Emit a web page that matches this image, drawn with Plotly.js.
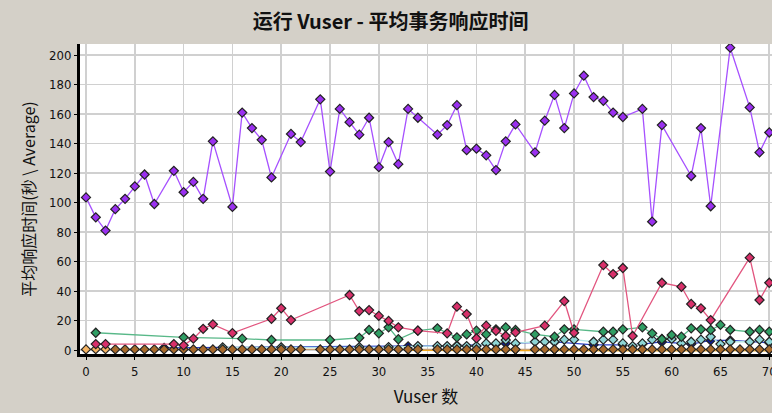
<!DOCTYPE html>
<html>
<head>
<meta charset="utf-8">
<script src="https://cdn.plot.ly/plotly-3.0.1.min.js"></script>
<style>
html,body{margin:0;padding:0;background:#d4d0c8;}
#chart{width:772px;height:413px;}
</style>
</head>
<body>
<div id="chart"></div>
<script>
// ---- data ----
const purpleX = [0,1,2,3,4,5,6,7,9,10,11,12,13,15,16,17,18,19,21,22,24,25,26,27,28,29,30,31,32,33,34,36,37,38,39,40,41,42,43,44,46,47,48,49,50,51,52,53,54,55,57,58,59,62,63,64,66,68,69,70];
const purpleY = [103.5,90,81,95.5,102.5,111,119,99,121.5,107,114,102.5,141.5,97,161,150.5,142.5,117,146.5,141,170,121,163.5,154.5,146,157.5,124,141,126,163.5,157.5,146,152.5,166,135.5,136.5,132,122,141.5,153,134,155.5,173,150.5,174,186,171.5,169,161,158,163.5,87,152.5,118,150.5,97.5,205,164.5,134,147.5];

const pinkX = [1,2,9,10,11,12,13,15,19,20,21,27,28,29,30,31,32,34,37,38,39,40,41,42,43,44,47,49,50,53,54,55,56,59,61,62,63,64,68,69,70];
const pinkY = [4,4,4,3.2,7.7,14.4,17.4,11.5,21.2,28.3,20.3,37.3,26.4,27.1,23.1,19.7,15.4,13.1,11.3,29.4,24.4,7.9,16.5,13,9.5,12,16.5,33.2,11.7,57.6,51.5,55.6,9.5,45.6,42.9,31.2,28.3,20.3,62.6,33.9,45.6];

const greenX = [1,10,16,19,25,28,29,30,31,32,34,36,38,39,40,41,42,43,44,46,48,49,50,53,54,55,57,58,59,60,61,62,63,64,65,66,68,69,70];
const greenY = [11.7,8.6,7.7,6.8,6.8,8.3,13.6,11.3,15.4,7.3,13.1,14.7,8.6,10.6,13.1,10.6,14,15.4,13.6,10.6,9,14,14,12.4,12.4,14,15.4,11.3,7.3,10.2,9,14.7,14,13.6,17,13.6,12.4,13.6,12.4];

const cyanX = [14,20,28,31,34,36,37,38,39,40,41,42,43,44,46,47,48,49,50,52,53,54,55,56,57,58,59,60,61,62,63,64,65,66,68,69,70];
const cyanY = [1.8,1.8,2,2,2.7,2.7,2.7,2.7,2.7,2.7,4.5,4.5,6.8,4.5,5.6,5.6,5.6,7,7,5.6,7,7,4.5,2.7,4.5,7,7.5,7.5,4.5,5.6,7,9,4,5.6,5.6,7,5.6];

const navyX = [8,33,38,42,43,48,52,55,57,59,62,64,66,70];
const navyY = [1.5,2.5,3,4,4.5,5.5,3.5,3.5,4,5.5,4,6.5,6.5,5];

const brownX = [3,4,5,6,7,8,9,10,11,12,13,14,15,16,17,18,19,20,21,22,24,25,26,27,28,29,30,31,32,33,34,36,37,38,39,40,41,42,43,44,46,47,48,49,50,51,52,53,54,55,56,57,58,59,60,61,62,63,64,65,66,67,68,69,70];
const brownY = brownX.map(() => 0.4);

const lightOrangeX = [0,1,2];
const lightOrangeY = [0.4,0.6,0.6];

const orangeX = [33,44,48,52,57,62,66,70];
const orangeY = [-0.3,-0.6,-0.6,-0.4,-0.6,-0.6,-0.4,-0.6];

const xTicks = [0,5,10,15,20,25,30,35,40,45,50,55,60,65,70];
const yTicks = [0,20,40,60,80,100,120,140,160,180,200];

// ---- traces ----
function series(x, y, fill, lineColor, symbol) {
  return {
    type: 'scatter',
    mode: 'lines+markers',
    x: x, y: y,
    line: {color: lineColor, width: 1.3},
    marker: {symbol: symbol || 'diamond', size: 7, color: fill, line: {color: '#222', width: 1.2}},
    hoverinfo: 'x+y'
  };
}

const traces = [
  series(orangeX, orangeY, '#f2a81c', '#f2a81c', 'triangle-down'),
  series(lightOrangeX, lightOrangeY, '#f4b464', '#f4b464', 'diamond'),
  series(navyX, navyY, '#0a1a9a', '#2a40c8', 'diamond'),
  series(cyanX, cyanY, '#8ed6d6', '#b4e6e6', 'diamond'),
  series(brownX, brownY, '#a86a2c', '#c8a070', 'diamond'),
  series(greenX, greenY, '#2f9e64', '#58b888', 'diamond'),
  series(pinkX, pinkY, '#d8306a', '#e2557f', 'diamond'),
  series(purpleX, purpleY, '#9a30f0', '#a650ff', 'diamond')
];

const tickFont = {family: 'DejaVu Sans Condensed, Liberation Sans Narrow, sans-serif', size: 13, color: '#111'};

const layout = {
  width: 772, height: 413,
  paper_bgcolor: '#d4d0c8',
  plot_bgcolor: '#ffffff',
  showlegend: false,
  margin: {l: 80, r: 0, t: 44, b: 59},
  title: {
    text: '<b>运行 Vuser - 平均事务响应时间</b>',
    font: {family: 'Noto Sans CJK SC, sans-serif', size: 20, color: '#111'},
    x: 0.506, xanchor: 'center', xref: 'container',
    y: 1 - 22/413, yanchor: 'middle', yref: 'container'
  },
  xaxis: {
    range: [-0.615, 70.28],
    tickvals: xTicks,
    ticktext: xTicks.map(String),
    tickfont: tickFont,
    ticklabeloverflow: 'allow',
    showgrid: true, gridcolor: '#d0d0d0', gridwidth: 1.6,
    zeroline: false,
    showline: true, linecolor: '#000', linewidth: 3,
    ticks: 'outside', ticklen: 3, tickcolor: '#000',
    title: {text: 'Vuser 数', font: {family: 'Noto Sans CJK SC, sans-serif', size: 17, color: '#111'}, standoff: 14}
  },
  yaxis: {
    range: [-2.7, 207.5],
    tickvals: yTicks,
    ticktext: yTicks.map(String),
    tickfont: tickFont,
    showgrid: true, gridcolor: '#d0d0d0', gridwidth: 1.6,
    zeroline: false,
    showline: true, linecolor: '#000', linewidth: 3,
    ticks: 'outside', ticklen: 3, tickcolor: '#000',
    title: {text: '平均响应时间(秒 \\ Average)', font: {family: 'Noto Sans CJK SC, sans-serif', size: 16, color: '#111'}, standoff: 10}
  }
};

Plotly.newPlot('chart', traces, layout, {displayModeBar: false, staticPlot: true});
</script>
</body>
</html>
